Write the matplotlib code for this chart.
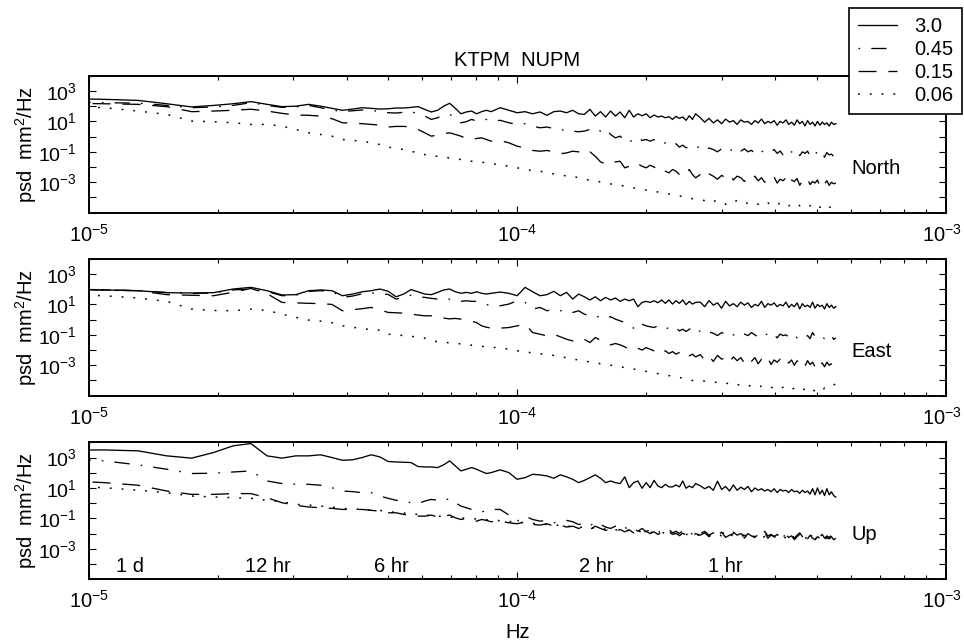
import numpy as np
import matplotlib
matplotlib.use('Agg')
import matplotlib.pyplot as plt
from matplotlib.ticker import FixedLocator, FuncFormatter, LogLocator, NullLocator, NullFormatter
from matplotlib.transforms import ScaledTranslation

plt.rcParams['font.family'] = 'Liberation Sans'
plt.rcParams['mathtext.fontset'] = 'custom'
plt.rcParams['mathtext.rm'] = 'Liberation Sans'
plt.rcParams['mathtext.it'] = 'Liberation Sans:italic'
plt.rcParams['axes.unicode_minus'] = False
plt.rcParams['lines.scale_dashes'] = False

# 512-point spectra of 15 min samples; bins kept for plotting
dt = 900.0
nfft = 512
bins = list(range(4, 41)) + list(range(42, 121, 2)) + list(range(123, 256, 3))
freq = np.array(bins) / (nfft * dt)

cutoffs = ['3.0', '0.45', '0.15', '0.06']

# log10 psd (mm^2/Hz)
north_30 = [2.5, 2.45, 2.38, 2.16, 1.95, 2.05, 2.16, 2.3, 2.12, 1.97,
            2.0, 2.12, 2.0, 1.86, 1.73, 1.81, 1.9, 1.86, 1.81, 1.83,
            1.88, 1.88, 1.92, 1.97, 1.79, 1.62, 1.73, 2.0, 2.19, 1.86,
            1.5, 1.62, 1.68, 1.5, 1.64, 1.73, 1.64,
            1.9, 1.73, 1.57, 1.64, 1.5, 1.62, 1.4, 1.64, 1.68, 1.57,
            1.73, 1.5, 1.46, 1.79, 1.35, 1.64, 1.29, 1.68, 1.35, 1.62,
            1.24, 1.73, 1.29, 1.5, 1.37, 1.5, 1.24, 1.42, 1.29, 1.35,
            1.24, 1.31, 1.13, 1.33, 1.2, 1.29, 1.07, 1.37, 1.13, 1.5,
            1.25, 0.95, 1.2, 0.9, 1.1, 0.85, 1.15, 0.95, 1.05, 0.8,
            1.1, 0.95, 1.0, 0.8, 1.05, 0.9, 1.15, 0.85, 1.0, 0.9,
            1.05, 0.75, 1.0, 0.9, 1.1, 0.8, 0.95, 0.75, 1.1, 0.85,
            1.0, 0.7, 1.05, 0.8, 0.95, 0.7, 1.0, 0.75, 0.95, 0.8,
            0.9, 0.7, 0.95, 0.8, 0.85]
north_045 = [2.3, 2.23, 2.2, 2.05, 1.9, 1.95, 2.05, 2.23, 2.05, 1.92,
             1.95, 2.05, 1.9, 1.75, 1.65, 1.7, 1.75, 1.72, 1.65, 1.57,
             1.55, 1.6, 1.65, 1.5, 1.35, 1.13, 1.24, 1.42, 1.46, 1.24,
             0.91, 0.98, 1.13, 1.02, 1.07, 1.13, 1.02,
             1.07, 0.91, 0.8, 0.85, 0.69, 0.58, 0.63, 0.54, 0.41, 0.47,
             0.36, 0.32, 0.36, 0.47, 0.58, 0.36, 0.54, 0.14, -0.08, 0.03,
             -0.3, -0.41, -0.12, -0.03, -0.25, -0.19, -0.3, -0.19, -0.41, -0.52,
             -0.41, -0.63, -0.56, -0.47, -0.69, -0.56, -0.74, -0.63, -0.78, -0.69,
             -0.7, -0.95, -0.75, -0.85, -1.0, -0.8, -0.9, -0.75, -1.05, -0.85,
             -0.95, -0.8, -1.0, -0.9, -1.1, -0.85, -0.95, -1.05, -0.9, -1.0,
             -0.85, -1.1, -0.95, -1.2, -0.9, -1.05, -1.0, -1.15, -0.95, -1.25,
             -1.0, -1.1, -0.95, -1.3, -1.05, -1.15, -1.0, -1.25, -1.1, -1.35,
             -1.05, -1.2, -1.15, -1.3, -1.25]
north_015 = [2.2, 2.16, 2.12, 1.97, 1.64, 1.68, 1.73, 1.8, 1.68, 1.53,
             1.42, 1.4, 1.35, 1.18, 0.91, 0.89, 0.85, 0.8, 0.76, 0.63,
             0.67, 0.67, 0.63, 0.47, 0.25, 0.03, 0.1, 0.19, 0.25, 0.14,
             0.03, -0.12, -0.19, -0.12, -0.08, -0.19, -0.3,
             -0.25, -0.41, -0.63, -0.74, -0.91, -0.96, -0.91, -1.0, -1.13, -1.07,
             -0.96, -1.0, -1.18, -1.0, -1.29, -1.66, -1.79, -1.84, -1.66, -1.62,
             -2.05, -1.95, -1.73, -1.79, -1.95, -2.05, -1.88, -2.0, -2.16, -2.05,
             -2.27, -2.38, -2.16, -2.27, -2.49, -2.32, -2.45, -2.16, -2.49, -2.71,
             -2.5, -2.75, -2.45, -2.6, -2.8, -2.55, -2.7, -2.5, -2.85, -2.6,
             -2.7, -2.95, -2.65, -2.8, -2.6, -2.9, -2.7, -3.0, -2.75, -2.85,
             -2.65, -3.05, -2.8, -2.9, -2.7, -3.1, -2.85, -2.95, -2.75, -3.2,
             -2.9, -3.0, -2.8, -3.15, -2.95, -3.05, -2.85, -3.25, -2.95, -3.1,
             -2.9, -3.2, -3.0, -3.1, -3.05]
north_006 = [2.0, 1.9, 1.68, 1.46, 1.02, 0.98, 0.91, 0.8, 0.8, 0.69,
             0.47, 0.25, 0.14, 0.03, -0.19, -0.25, -0.3, -0.41, -0.52, -0.69,
             -0.78, -0.85, -0.96, -1.07, -1.18, -1.29, -1.29, -1.35, -1.4, -1.44,
             -1.51, -1.57, -1.62, -1.66, -1.68, -1.73, -1.79,
             -1.84, -1.95, -2.05, -2.16, -2.23, -2.27, -2.38, -2.45, -2.49, -2.6,
             -2.6, -2.71, -2.76, -2.89, -2.93, -2.98, -3.04, -3.11, -3.15, -3.2,
             -3.26, -3.33, -3.37, -3.42, -3.48, -3.51, -3.55, -3.59, -3.64, -3.68,
             -3.7, -3.77, -3.81, -3.86, -3.9, -3.95, -3.99, -4.03, -4.08, -4.12,
             -4.15, -4.2, -4.1, -4.25, -4.2, -4.3, -4.45, -4.25, -4.3, -4.2,
             -4.35, -4.3, -4.4, -4.3, -4.35, -4.45, -4.3, -4.4, -4.35, -4.5,
             -4.4, -4.35, -4.45, -4.5, -4.4, -4.55, -4.45, -4.5, -4.4, -4.55,
             -4.5, -4.6, -4.5, -4.55, -4.45, -4.6, -4.55, -4.65, -4.5, -4.6,
             -4.55, -4.65, -4.6, -4.7, -4.6]

east_30 = [1.97, 1.95, 1.9, 1.77, 1.75, 1.77, 2.01, 2.12, 1.9, 1.62,
           1.64, 1.9, 1.95, 1.9, 1.57, 1.68, 1.83, 1.9, 2.01, 1.86,
           1.5, 1.68, 1.97, 1.83, 1.68, 1.64, 1.79, 1.95, 2.01, 1.83,
           1.73, 1.79, 1.73, 1.83, 1.73, 1.68, 1.73,
           1.81, 1.73, 1.57, 2.12, 1.83, 1.57, 1.64, 1.86, 1.57, 1.79,
           1.35, 1.68, 1.5, 1.29, 1.5, 1.24, 1.46, 1.29, 1.42, 1.2,
           1.35, 1.24, 1.35, 0.85, 1.13, 1.2, 1.13, 1.24, 1.11, 1.29,
           1.07, 1.29, 1.02, 1.24, 1.07, 1.29, 0.98, 1.2, 1.02, 1.13,
           1.15, 0.85, 1.25, 0.95, 1.1, 0.75, 1.2, 0.9, 1.05, 0.85,
           1.15, 0.95, 1.1, 0.8, 1.0, 0.9, 1.2, 0.8, 1.05, 0.95,
           1.1, 0.85, 1.0, 0.9, 1.15, 0.8, 1.0, 0.85, 1.1, 0.7,
           1.05, 0.85, 0.95, 0.8, 1.15, 0.75, 1.0, 0.85, 0.95, 0.7,
           1.05, 0.8, 0.95, 0.75, 0.85]
east_045 = [1.97, 1.95, 1.9, 1.78, 1.72, 1.75, 1.95, 2.01, 1.85, 1.57,
            1.6, 1.85, 1.9, 1.85, 1.46, 1.55, 1.7, 1.75, 1.73, 1.65,
            1.35, 1.45, 1.6, 1.5, 1.46, 1.4, 1.35, 1.3, 1.35, 1.3,
            1.2, 1.24, 1.2, 1.2, 1.1, 1.0, 0.91,
            0.91, 1.02, 1.24, 1.13, 0.69, 0.8, 0.58, 0.69, 0.58, 0.63,
            0.47, 0.58, 0.36, 0.25, 0.14, 0.25, 0.1, 0.19, 0.03, -0.08,
            -0.19, -0.41, -0.56, -0.19, -0.3, -0.41, -0.47, -0.52, -0.41, -0.56,
            -0.63, -0.52, -0.69, -0.56, -0.74, -0.63, -0.78, -0.63, -0.56, -0.85,
            -0.75, -0.95, -0.8, -0.9, -1.05, -0.85, -0.95, -0.8, -1.0, -1.1,
            -0.9, -0.95, -1.05, -0.85, -1.0, -1.15, -0.95, -1.05, -0.9, -1.1,
            -1.0, -1.2, -0.95, -1.05, -1.0, -1.15, -1.05, -0.95, -1.2, -1.1,
            -1.0, -1.15, -1.05, -1.25, -0.85, -1.1, -1.2, -1.05, -1.15, -1.25,
            -1.1, -1.2, -1.05, -1.3, -1.2]
east_015 = [1.97, 1.95, 1.9, 1.64, 1.6, 1.57, 1.8, 2.05, 1.7, 1.13,
            1.1, 1.07, 1.05, 1.0, 0.58, 0.65, 0.72, 0.8, 0.65, 0.47,
            0.45, 0.42, 0.36, 0.3, 0.25, 0.25, 0.14, 0.1, 0.05, 0.08,
            0.03, -0.05, -0.1, -0.2, -0.41, -0.5, -0.56,
            -0.56, -0.52, -0.41, -0.3, -0.85, -0.96, -1.07, -0.96, -1.13, -1.29,
            -1.4, -1.22, -1.29, -1.51, -1.18, -1.35, -1.51, -1.66, -1.57, -1.66,
            -1.79, -1.95, -1.84, -1.88, -2.0, -1.84, -1.95, -2.05, -1.95, -2.16,
            -2.05, -2.23, -2.1, -2.27, -2.16, -2.32, -2.18, -2.38, -2.27, -2.45,
            -2.3, -2.65, -2.4, -2.75, -2.35, -2.6, -2.5, -2.8, -2.45, -2.7,
            -2.5, -2.85, -2.55, -2.75, -2.5, -2.9, -2.6, -2.8, -2.55, -2.95,
            -2.65, -2.8, -2.6, -2.9, -2.7, -2.85, -2.65, -3.0, -2.7, -2.9,
            -2.75, -3.05, -2.7, -2.95, -2.8, -3.1, -2.75, -2.95, -2.85, -3.1,
            -2.8, -3.0, -2.9, -3.1, -2.9]
east_006 = [1.65, 1.57, 1.42, 1.2, 0.69, 0.6, 0.58, 0.69, 0.6, 0.36,
            0.15, -0.03, -0.1, -0.2, -0.41, -0.5, -0.6, -0.65, -0.7, -0.96,
            -1.0, -1.05, -1.1, -1.15, -1.22, -1.4, -1.45, -1.5, -1.52, -1.55,
            -1.6, -1.65, -1.68, -1.7, -1.75, -1.8, -1.82,
            -1.85, -1.95, -2.05, -2.1, -2.2, -2.25, -2.3, -2.35, -2.45, -2.5,
            -2.6, -2.65, -2.7, -2.8, -2.85, -2.9, -2.95, -3.0, -3.05, -3.1,
            -3.15, -3.2, -3.25, -3.3, -3.35, -3.4, -3.45, -3.5, -3.55, -3.6,
            -3.62, -3.68, -3.72, -3.78, -3.8, -3.85, -3.9, -3.95, -4.0, -4.02,
            -4.0, -4.05, -4.1, -4.08, -4.15, -4.2, -4.15, -4.25, -4.2, -4.3,
            -4.25, -4.35, -4.3, -4.4, -4.35, -4.3, -4.4, -4.45, -4.35, -4.45,
            -4.5, -4.4, -4.5, -4.45, -4.55, -4.5, -4.6, -4.5, -4.55, -4.65,
            -4.55, -4.6, -4.5, -4.65, -4.6, -4.7, -4.6, -4.55, -4.65, -4.5,
            -4.55, -4.45, -4.4, -4.3, -4.2]

up_30 = [3.48, 3.5, 3.44, 3.11, 2.96, 3.33, 3.77, 3.92, 3.11, 2.96,
         3.11, 3.11, 3.18, 3.0, 2.82, 2.85, 3.0, 3.18, 3.04, 2.74,
         2.71, 2.69, 2.67, 2.41, 2.38, 2.38, 2.34, 2.52, 2.78, 2.45,
         2.12, 2.23, 2.34, 2.23, 2.08, 1.95, 2.01,
         2.19, 2.01, 1.57, 1.68, 1.9, 1.86, 1.79, 1.64, 1.86, 1.73,
         1.57, 1.35, 1.5, 1.68, 1.86, 1.64, 1.35, 1.46, 1.35, 1.29,
         1.73, 1.02, 1.35, 1.46, 0.98, 1.35, 1.02, 1.5, 1.13, 1.02,
         1.24, 1.07, 1.07, 1.2, 1.07, 1.46, 0.98, 1.13, 1.02, 1.29,
         1.15, 0.95, 1.1, 0.85, 1.45, 0.9, 1.1, 0.8, 1.2, 0.85,
         1.05, 0.9, 1.1, 0.75, 1.0, 0.85, 0.95, 0.8, 0.9, 0.75,
         0.95, 0.7, 0.9, 0.8, 0.85, 0.7, 0.9, 0.75, 0.8, 0.65,
         0.85, 0.7, 0.8, 0.6, 0.95, 0.55, 1.0, 0.6, 0.85, 0.5,
         0.95, 0.55, 0.75, 0.5, 0.4]
up_045 = [2.95, 2.78, 2.52, 2.23, 1.95, 1.97, 2.05, 2.12, 1.46, 1.29,
          1.24, 1.24, 1.18, 1.02, 0.8, 0.76, 0.69, 0.69, 0.47, 0.32,
          0.19, 0.14, 0.03, -0.03, 0.14, 0.25, 0.19, 0.14, 0.32, 0.03,
          -0.19, -0.3, -0.41, -0.47, -0.56, -0.52, -0.41,
          -0.41, -0.78, -1.18, -0.85, -1.07, -1.18, -1.13, -1.29, -1.18, -1.13,
          -1.22, -1.4, -1.35, -1.51, -1.22, -1.4, -1.57, -1.66, -1.51, -1.73,
          -1.57, -1.79, -1.66, -1.84, -1.66, -1.88, -1.73, -1.79, -1.95, -1.79,
          -1.88, -1.73, -1.95, -1.84, -2.0, -1.79, -1.95, -1.88, -2.05, -1.84,
          -2.0, -1.85, -2.1, -1.95, -2.05, -1.8, -2.15, -2.0, -1.9, -2.1,
          -2.0, -2.15, -1.9, -2.05, -2.2, -2.0, -2.1, -1.85, -2.15, -2.05,
          -2.2, -2.0, -2.1, -2.25, -2.0, -2.15, -2.05, -2.3, -2.1, -1.95,
          -2.2, -2.1, -2.25, -2.05, -2.2, -2.3, -2.1, -2.2, -2.05, -2.3,
          -2.15, -2.25, -2.1, -2.3, -2.2]
up_015 = [1.5, 1.35, 1.18, 0.8, 0.58, 0.58, 0.63, 0.63, 0.36, 0.03,
          -0.14, -0.25, -0.3, -0.34, -0.41, -0.41, -0.41, -0.47, -0.52, -0.63,
          -0.63, -0.74, -0.78, -0.85, -0.85, -0.78, -0.91, -0.85, -0.78, -0.96,
          -1.07, -1.0, -1.13, -1.18, -1.07, -1.13, -1.22,
          -1.18, -1.29, -1.35, -1.22, -1.4, -1.44, -1.35, -1.51, -1.44, -1.57,
          -1.51, -1.66, -1.57, -1.73, -1.51, -1.66, -1.79, -1.66, -1.84, -1.73,
          -1.88, -1.75, -1.95, -1.79, -1.95, -1.84, -2.0, -1.88, -2.05, -1.95,
          -2.1, -1.88, -2.05, -1.97, -2.14, -1.97, -2.1, -2.0, -2.18, -2.0,
          -2.1, -1.95, -2.2, -2.05, -2.15, -1.9, -2.25, -2.1, -2.0, -2.2,
          -2.1, -2.3, -2.0, -2.15, -2.25, -2.05, -2.2, -1.95, -2.3, -2.1,
          -2.2, -2.05, -2.25, -2.35, -2.1, -2.25, -2.15, -2.4, -2.2, -2.05,
          -2.3, -2.15, -2.35, -2.1, -2.3, -2.4, -2.2, -2.3, -2.15, -2.45,
          -2.25, -2.35, -2.2, -2.4, -2.3]
up_006 = [1.1, 1.02, 0.85, 0.69, 0.47, 0.41, 0.36, 0.32, 0.19, 0.1,
          -0.08, -0.12, -0.19, -0.25, -0.34, -0.38, -0.41, -0.45, -0.47, -0.56,
          -0.6, -0.65, -0.69, -0.74, -0.78, -0.82, -0.85, -0.87, -0.91, -0.93,
          -0.96, -1.0, -1.02, -1.04, -1.07, -1.09, -1.11,
          -1.15, -1.2, -1.24, -1.29, -1.33, -1.35, -1.4, -1.44, -1.46, -1.51,
          -1.53, -1.57, -1.6, -1.62, -1.66, -1.66, -1.7, -1.73, -1.75, -1.77,
          -1.79, -1.79, -1.84, -1.84, -1.88, -1.86, -1.9, -1.92, -1.95, -1.92,
          -1.97, -1.99, -1.97, -2.01, -2.03, -2.01, -2.05, -2.07, -2.05, -2.1,
          -2.1, -2.05, -2.15, -2.1, -2.0, -2.15, -2.1, -2.2, -2.05, -2.15,
          -2.2, -2.1, -2.25, -2.15, -2.2, -2.1, -2.25, -2.2, -2.15, -2.3,
          -2.2, -2.25, -2.15, -2.3, -2.25, -2.2, -2.35, -2.25, -2.3, -2.2,
          -2.35, -2.3, -2.25, -2.4, -2.3, -2.35, -2.25, -2.4, -2.3, -2.35,
          -2.3, -2.4, -2.35, -2.3, -2.35]

panels = [('North', [north_30, north_045, north_015, north_006]),
          ('East', [east_30, east_045, east_015, east_006]),
          ('Up', [up_30, up_045, up_015, up_006])]

period_labels = ['1 d', '12 hr', '6 hr', '2 hr', '1 hr']
period_hours = [24, 12, 6, 2, 1]

styles = ['-', (0, (1.2, 8, 11, 8)), (0, (13, 8.5)), (0, (1.3, 7.2))]
widths = [0.95, 0.95, 0.95, 1.1]

fs = 14.5
fig = plt.figure(figsize=(9.64, 6.43), dpi=100)
bottoms = [0.6692, 0.3846, 0.0991]
axes = []
for (name, series), b in zip(panels, bottoms):
    ax = fig.add_axes([0.0923, b, 0.889, 0.213])
    for s, ls, lw in zip(series, styles, widths):
        if len(s) != len(freq):
            raise ValueError('%s series has %d values' % (name, len(s)))
        ax.plot(freq, 10.0 ** np.array(s), color='black', lw=lw, linestyle=ls)
    ax.set_xscale('log')
    ax.set_yscale('log')
    ax.set_xlim(1e-5, 1e-3)
    ax.set_ylim(1e-5, 1e4)
    ax.yaxis.set_major_locator(FixedLocator(10.0 ** np.arange(-5, 5)))
    ax.yaxis.set_major_formatter(FuncFormatter(
        lambda v, p: r'$\mathdefault{10^{%d}}$' % round(np.log10(v))
        if round(np.log10(v)) % 2 == 1 and abs(np.log10(v)) < 3.5 else ''))
    ax.yaxis.set_minor_locator(NullLocator())
    ax.xaxis.set_major_locator(FixedLocator([1e-5, 1e-4, 1e-3]))
    ax.xaxis.set_minor_locator(LogLocator(base=10, subs=np.arange(2, 10)))
    ax.xaxis.set_minor_formatter(NullFormatter())
    ax.tick_params(which='both', direction='in', top=True, right=True,
                   labelsize=fs, width=0.8)
    ax.tick_params(axis='y', labelsize=14)
    ax.tick_params(which='major', length=5)
    ax.tick_params(which='minor', length=3)
    ax.tick_params(axis='x', which='major', pad=8)
    ax.tick_params(axis='y', which='major', pad=8.5)
    for sp in ax.spines.values():
        sp.set_linewidth(1.4)
    ax.set_ylabel('psd  mm$^{2}$/Hz', fontsize=fs, va='center')
    ax.yaxis.set_label_coords(-63 / 857, 0.5)
    ax.text(0.89, 0.325, name, transform=ax.transAxes, fontsize=fs,
            ha='left', va='center')
    axes.append(ax)

for lab, h in zip(period_labels, period_hours):
    axes[2].text(1.0 / (h * 3600.0), 10 ** -4.5, lab, fontsize=fs,
                 ha='left', va='baseline')

fig.text(517.5 / 964, 1 - 60 / 643, 'KTPM  NUPM', fontsize=fs,
         ha='center', va='center')
fig.text(517.5 / 964, 1 - 632 / 643, 'Hz', fontsize=fs, ha='center', va='center')

leg = fig.legend(axes[0].lines, cutoffs, loc='upper right',
                 bbox_to_anchor=(962 / 964, 1 - 8 / 643), fontsize=fs,
                 frameon=True, fancybox=False, edgecolor='black', framealpha=1,
                 borderpad=0.45, labelspacing=0.2, handlelength=1.9,
                 handletextpad=0.85, borderaxespad=0)
leg.get_frame().set_linewidth(1.2)

# pull the 10^-3 labels a few pixels in so they stay on the canvas
fig.canvas.draw()
for ax in axes:
    last = ax.xaxis.get_major_ticks()[-1].label1
    last.set_transform(last.get_transform() + ScaledTranslation(-0.04, 0, fig.dpi_scale_trans))

fig.savefig('out.png', dpi=100)
